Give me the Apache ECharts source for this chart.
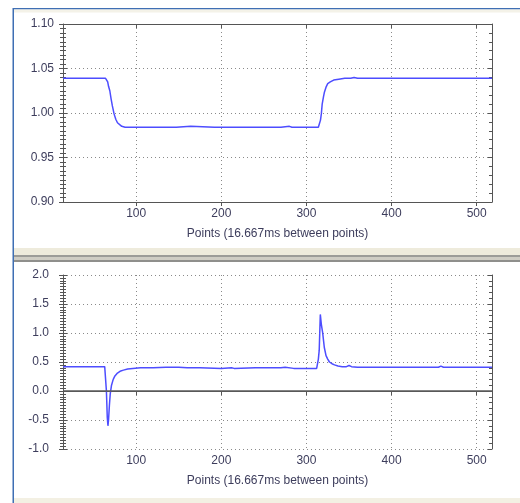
<!DOCTYPE html>
<html>
<head>
<meta charset="utf-8">
<script src="https://cdn.jsdelivr.net/npm/echarts@6/dist/echarts.min.js"></script>
<style>html,body{margin:0;padding:0;background:#fff}#c{width:520px;height:503px}</style>
</head>
<body>
<div id="c"></div>
<script>
// ---- data ----
const xTickValues = [100, 200, 300, 400, 500];
const xAxisTitle = 'Points (16.667ms between points)';

const topX = [14, 30, 50, 64, 65.5, 66.5, 67.5, 69, 70.5, 72, 74, 76, 78, 80, 83, 87, 92, 100, 120, 147, 149, 164, 166, 192, 194, 196, 230, 270, 280, 283, 286, 300, 314, 315.5, 316.5, 317.5, 318.5, 320, 321, 323, 325, 328, 332, 338, 345, 352, 356, 360, 380, 418, 420, 422, 450, 478, 480, 482, 500, 518];
const topY = [1.039, 1.039, 1.039, 1.039, 1.038, 1.035, 1.030, 1.025, 1.016, 1.008, 0.999, 0.993, 0.989, 0.987, 0.985, 0.984, 0.984, 0.984, 0.984, 0.984, 0.985, 0.985, 0.984, 0.984, 0.985, 0.984, 0.984, 0.984, 0.985, 0.984, 0.984, 0.984, 0.984, 0.985, 0.992, 0.999, 1.010, 1.018, 1.023, 1.029, 1.033, 1.035, 1.037, 1.038, 1.039, 1.039, 1.040, 1.039, 1.039, 1.039, 1.040, 1.039, 1.039, 1.039, 1.040, 1.039, 1.039, 1.039];

const botX = [14, 40, 63, 64, 65, 66, 66.8, 67.5, 68.5, 69.5, 71, 73, 75, 78, 81, 85, 90, 96, 105, 120, 135, 150, 160, 175, 200, 212, 215, 240, 270, 275, 285, 300, 312, 313, 314, 315, 316.3, 317.5, 319, 321, 323, 325, 327, 330, 333, 337, 342, 347, 350, 353, 360, 400, 455, 458, 461, 500, 518];
const botY = [0.42, 0.42, 0.42, 0.42, 0.0, -0.45, -0.6, -0.5, -0.25, -0.05, 0.10, 0.20, 0.26, 0.31, 0.34, 0.36, 0.38, 0.39, 0.40, 0.40, 0.41, 0.41, 0.40, 0.40, 0.39, 0.40, 0.39, 0.40, 0.40, 0.41, 0.39, 0.39, 0.39, 0.41, 0.55, 0.70, 1.32, 1.15, 1.01, 0.75, 0.61, 0.55, 0.50, 0.47, 0.45, 0.43, 0.42, 0.42, 0.44, 0.42, 0.41, 0.41, 0.41, 0.43, 0.41, 0.41, 0.41];

const zip = (a, b) => a.map((v, i) => [v, b[i]]);

// ---- styles ----
const FONT = "'Liberation Sans', Arial, sans-serif";
const TXT = '#3d3d5c';
const AX = '#555555';
const dotted = { show: true, lineStyle: { color: '#8a8a8a', type: [1, 3], width: 1 } };

function xAxes(gi) {
  return [
    {
      gridIndex: gi, type: 'value', min: 14, max: 518, position: 'bottom',
      axisLine: { show: true, lineStyle: { color: AX, width: 1 } },
      axisTick: { show: true, inside: false, length: 4, customValues: xTickValues, lineStyle: { color: AX } },
      axisLabel: { show: true, customValues: xTickValues, margin: 6, color: TXT, fontSize: 12, fontFamily: FONT },
      splitLine: dotted,
      name: xAxisTitle, nameLocation: 'middle', nameGap: 26,
      nameTextStyle: { color: TXT, fontSize: 12, fontFamily: FONT }
    },
    {
      gridIndex: gi, type: 'value', min: 14, max: 518, position: 'top',
      axisLine: { show: true, lineStyle: { color: AX, width: 1 } },
      axisTick: { show: true, inside: true, length: 4, customValues: xTickValues, lineStyle: { color: AX } },
      axisLabel: { show: false },
      splitLine: { show: false }
    }
  ];
}

function yAxes(gi, min, max, interval, digits, margin) {
  return [
    {
      gridIndex: gi, type: 'value', min, max, interval, position: 'left',
      axisLine: { show: true, lineStyle: { color: AX, width: 1 } },
      axisTick: { show: true, inside: false, length: 4, lineStyle: { color: AX } },
      minorTick: { show: true, splitNumber: 10, length: 3, lineStyle: { color: AX } },
      axisLabel: { show: true, margin, color: TXT, fontSize: 12, fontFamily: FONT, formatter: v => v.toFixed(digits) },
      splitLine: dotted
    },
    {
      gridIndex: gi, type: 'value', min, max, interval, position: 'left',
      axisLine: { show: false },
      axisTick: { show: true, inside: true, length: 4, lineStyle: { color: AX } },
      minorTick: { show: true, splitNumber: 10, length: 3, lineStyle: { color: AX } },
      axisLabel: { show: false },
      splitLine: { show: false }
    },
    {
      gridIndex: gi, type: 'value', min, max, interval, position: 'right',
      axisLine: { show: true, lineStyle: { color: AX, width: 1 } },
      axisTick: { show: true, inside: true, length: 4, lineStyle: { color: AX } },
      minorTick: { show: true, splitNumber: 5, length: 3, lineStyle: { color: AX } },
      axisLabel: { show: false },
      splitLine: { show: false }
    }
  ];
}

const chart = echarts.init(document.getElementById('c'), null, { renderer: 'canvas' });
const BLUE = '#4d4dff';

chart.setOption({
  animation: false,
  backgroundColor: '#ffffff',
  grid: [
    { left: 63, right: 28, top: 24, height: 178 },
    { left: 63, right: 28, top: 275, height: 174 }
  ],
  xAxis: [...xAxes(0), ...xAxes(1)],
  yAxis: [...yAxes(0, 0.9, 1.1, 0.05, 2, 9), ...yAxes(1, -1, 2, 0.5, 1, 14)],
  graphic: [
    { type: 'rect', shape: { x: 13, y: 8, width: 507, height: 1.5 }, style: { fill: '#3f6fb4' }, silent: true },
    { type: 'rect', shape: { x: 14, y: 9.5, width: 506, height: 3 }, style: { fill: '#f4f2e8' }, silent: true },
    { type: 'rect', shape: { x: 14, y: 248, width: 506, height: 7 }, style: { fill: '#eeebdc' }, silent: true },
    { type: 'rect', shape: { x: 14, y: 255, width: 506, height: 2 }, style: { fill: '#9c9c98' }, silent: true },
    { type: 'rect', shape: { x: 14, y: 257, width: 506, height: 3 }, style: { fill: '#cfcdc4' }, silent: true },
    { type: 'rect', shape: { x: 14, y: 260, width: 506, height: 2 }, style: { fill: '#8f8f8c' }, silent: true },
    { type: 'rect', shape: { x: 14, y: 498, width: 506, height: 5 }, style: { fill: '#f3f0e3' }, silent: true },
    { type: 'rect', shape: { x: 12.5, y: 8, width: 1.5, height: 495 }, style: { fill: '#3f6fb4' }, silent: true }
  ],
  series: [
    {
      type: 'line', xAxisIndex: 0, yAxisIndex: 0, data: zip(topX, topY),
      showSymbol: false, smooth: false, lineStyle: { color: BLUE, width: 1.5 }, silent: true
    },
    {
      type: 'line', xAxisIndex: 2, yAxisIndex: 3, data: zip(botX, botY),
      showSymbol: false, smooth: false, lineStyle: { color: BLUE, width: 1.5 }, silent: true,
      markLine: {
        silent: true, symbol: 'none', label: { show: false },
        lineStyle: { color: '#5a5a5a', type: 'solid', width: 1.5 },
        data: [{ yAxis: 0 }]
      }
    }
  ]
});
</script>
</body>
</html>
